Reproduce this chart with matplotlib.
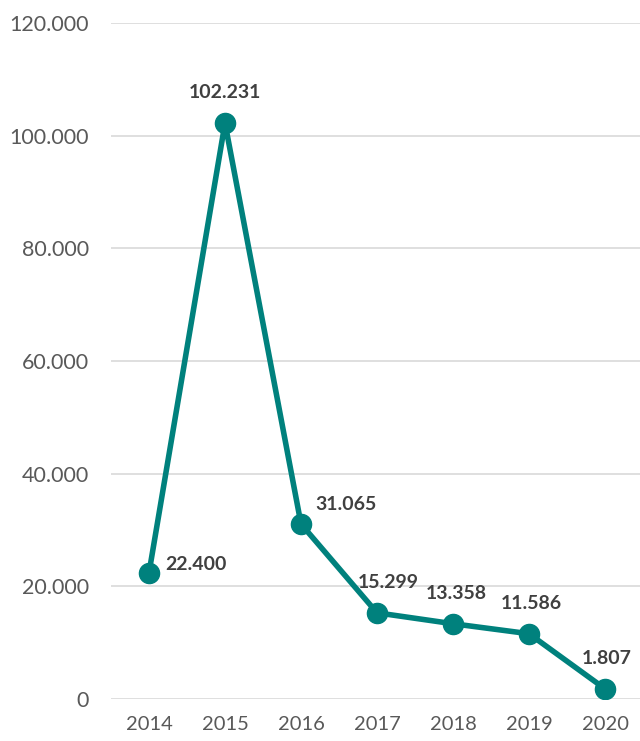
import matplotlib
matplotlib.use("Agg")
import matplotlib.pyplot as plt
from matplotlib.ticker import FuncFormatter

years = ["2014", "2015", "2016", "2017", "2018", "2019", "2020"]
values = [22400, 102231, 31065, 15299, 13358, 11586, 1807]
value_labels = ["22.400", "102.231", "31.065", "15.299", "13.358", "11.586", "1.807"]
yticks = [0, 20000, 40000, 60000, 80000, 100000, 120000]

plt.rcParams['font.family'] = ['Lato', 'DejaVu Sans']

fig = plt.figure(figsize=(6.4, 7.41), dpi=100)
ax = fig.add_axes([111/640, 42/741, 1 - 111/640, 676/741])

color = '#00817D'
x = list(range(len(years)))
ax.plot(x, values, color=color, lw=4.0, marker='o', ms=14.5, zorder=3, solid_capstyle='round')

offsets = [(12, 6, 'left'), (0, 22, 'center'), (10, 14, 'left'), (8, 22, 'center'),
           (2, 22, 'center'), (2, 22, 'center'), (1, 22, 'center')]
for xi, v, lab, (dx, dy, ha) in zip(x, values, value_labels, offsets):
    ax.annotate(lab, (xi, v), xytext=(dx, dy), textcoords='offset points',
                ha=ha, va='center', fontsize=14, fontweight='bold', color='#404040')

ax.set_ylim(0, 120000)
ax.set_xlim(-0.5, 6.46)
ax.set_yticks(yticks)
ax.yaxis.set_major_formatter(FuncFormatter(lambda v, p: "0" if v == 0 else f"{int(v):,}".replace(",", ".")))
ax.set_xticks(x)
ax.set_xticklabels(years)
ax.grid(axis='y', color='#D9D9D9', lw=1.2)
ax.set_axisbelow(True)
for s in ax.spines.values():
    s.set_visible(False)
ax.tick_params(length=0, colors='#595959')
ax.tick_params(axis='y', pad=16, labelsize=15.5)
ax.tick_params(axis='x', pad=12, labelsize=14.5)

fig.savefig("out.png", dpi=100)
